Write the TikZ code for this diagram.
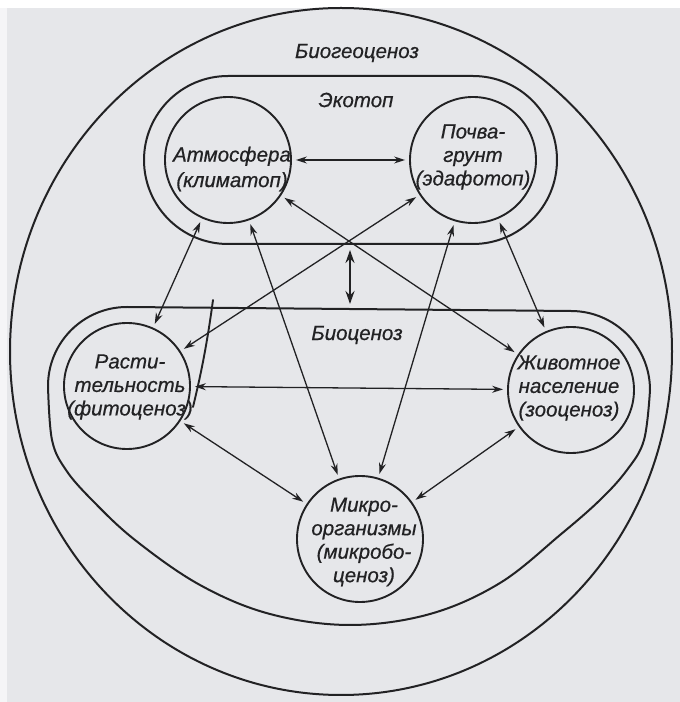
\documentclass[tikz,border=0pt]{standalone}
\usepackage{fontspec}
\setmainfont{Liberation Sans}[ItalicFeatures={FakeBold=0.6}]
\usetikzlibrary{arrows.meta}
\definecolor{paper}{RGB}{230,231,234}
\definecolor{ink}{RGB}{34,34,36}
\tikzset{
  ring/.style={circle, draw=ink, line width=1.9pt, minimum size=126pt, inner sep=0pt},
  lbl/.style={text=ink, align=center, inner sep=0pt, font=\fontsize{20.5}{23.5}\selectfont\itshape},
  conn/.style={draw=ink, line width=1.3pt, {Stealth[length=11pt,width=7pt]}-{Stealth[length=11pt,width=7pt]}, shorten <=4pt, shorten >=4pt},
  bigconn/.style={draw=ink, line width=2.8pt, {Stealth[length=13pt,width=9pt]}-{Stealth[length=13pt,width=9pt]}},
  outline/.style={draw=ink, line width=2pt}
}
\begin{document}
\begin{tikzpicture}[x=1pt,y=1pt]
\useasboundingbox (0,0) rectangle (680,702);
\fill[paper] (0,0) rectangle (680,702);
\fill[white] (0,694) rectangle (680,702);
\fill[white!60!paper] (0,0) rectangle (7,694);
% outer Biogeocenosis
\draw[outline] (341,350.5) ellipse[x radius=331, y radius=343.5];
\node[lbl] (bgcT) at (357,649) {Биогеоценоз};
% Ecotope capsule
\draw[outline] (228,626) -- (473,626) arc[start angle=90,end angle=-90,radius=84] -- (228,458) arc[start angle=270,end angle=90,radius=84] -- cycle;
\node[lbl] (ekoT) at (356,602) {Экотоп};
% Biocenosis
\draw[outline] (127,395) -- (571,391) arc[start angle=90,end angle=0,radius=79]
  -- plot[smooth,tension=0.6] coordinates {(650,312) (644,262) (627,232) (600,202) (560,167) (500,119) (430,88) (350,77) (270,88) (200,117) (135,162) (92,202) (66,232) (52,262) (48,316)}
  arc[start angle=180,end angle=90,radius=79] -- cycle;
\node[lbl] (biocT) at (357,367) {Биоценоз};
% component circles
\node[ring] (atm) at (228,542) {};
\node[ring] (soil) at (473,542) {};
\node[ring] (plant) at (127,316) {};
\node[ring] (anim) at (571,312) {};
\node[ring] (micro) at (360,163) {};
\node[lbl] (atmT) at (232,533) {Атмосфера\\[2pt](климатоп)};
\node[lbl] (soilT) at (473,545) {Почва-\\грунт\\(эдафотоп)};
\node[lbl] (plantT) at (130,315) {Расти-\\тельность\\(фитоценоз)};
\node[lbl] (animT) at (569,314) {Животное\\население\\(зооценоз)};
\node[lbl] (microT) at (364,160) {Микро-\\организмы\\(микробо-\\ценоз)};
% connectors
\draw[conn] (atm) -- (soil);
\draw[conn] (atm) -- (plant);
\draw[conn] (atm) -- (micro);
\draw[conn] (atm) -- (anim);
\draw[conn] (soil) -- (plant);
\draw[conn] (soil) -- (micro);
\draw[conn] (soil) -- (anim);
\draw[conn] (plant) -- (anim);
\draw[conn] (plant) -- (micro);
\draw[conn] (anim) -- (micro);
\coordinate (ekoB) at (350,452);
\coordinate (biocTop) at (350,398);
\draw[bigconn] (ekoB) -- (biocTop);
% stray pen stroke near vegetation circle
\draw[ink, line width=1.9pt, line cap=round] (213,402) .. controls (206,350) and (199,320) .. (193,295);
\end{tikzpicture}
\end{document}
